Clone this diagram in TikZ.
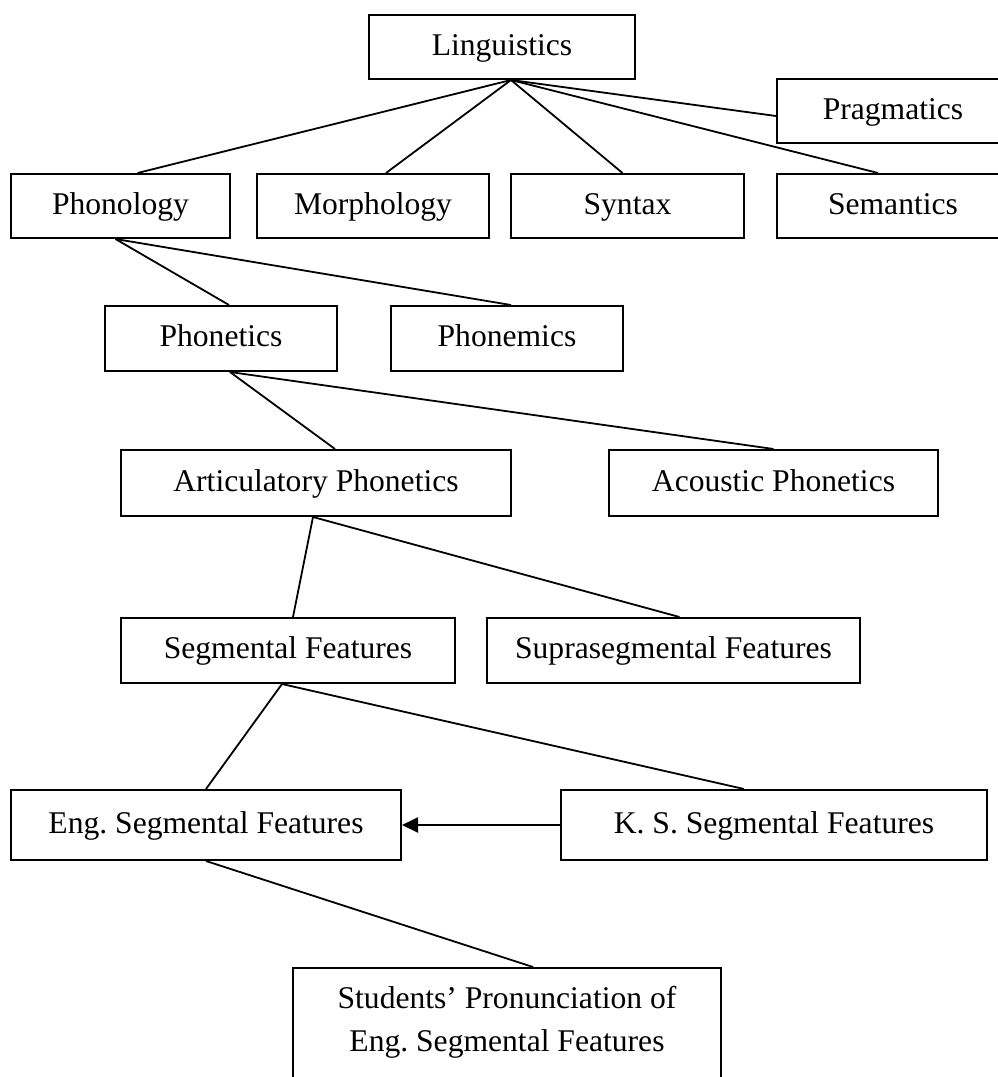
\documentclass[tikz,border=0pt]{standalone}
\usepackage{fontspec}
\setmainfont{Liberation Serif}
\usepackage{tikz}
\usetikzlibrary{arrows.meta}
\frenchspacing
\tikzset{
  boxbase/.style={draw=black, line width=2pt, inner sep=0pt, font=\fontsize{31.6}{43}\selectfont},
  box/.style={boxbase, minimum height=64pt, text height=24pt, text depth=8pt},
  link/.style={draw=black, line width=1.8pt},
  feed/.style={draw=black, line width=2pt, -{Triangle[length=16pt,width=15pt]}},
}
\begin{document}
\begin{tikzpicture}[x=1pt,y=-1pt]
  % page, cut at the right and bottom edges
  \fill[white] (0,0) rectangle (998,1077);
  \clip (0,0) rectangle (998,1077);
  % top level
  \node[box, minimum width=266] (ling) at (502,47) {Linguistics};
  \node[box, minimum width=232] (prag) at (893,111) {Pragmatics};
  \node[box, minimum width=219] (phonol) at (120.5,206) {Phonology};
  \node[box, minimum width=232] (morph) at (373,206) {Morphology};
  \node[box, minimum width=233] (syntax) at (627.5,206) {Syntax};
  \node[box, minimum width=232] (seman) at (893,206) {Semantics};
  % phonology branch
  \node[box, minimum width=232, minimum height=65] (phonet) at (221,338.5) {Phonetics};
  \node[box, minimum width=232, minimum height=65] (phonem) at (507,338.5) {Phonemics};
  \node[box, minimum width=390, minimum height=66] (artic) at (316,483) {Articulatory Phonetics};
  \node[box, minimum width=329, minimum height=66] (acous) at (773.5,483) {Acoustic Phonetics};
  \node[box, minimum width=334, minimum height=65] (segm) at (288,650.5) {Segmental Features};
  \node[box, minimum width=373, minimum height=65] (supra) at (673.5,650.5) {Suprasegmental Features};
  \node[box, minimum width=390, minimum height=70] (eng) at (206,825) {Eng. Segmental Features};
  \node[box, minimum width=426, minimum height=70] (ks) at (774,825) {K. S. Segmental Features};
  \node[boxbase, minimum width=428, inner ysep=18.4pt, align=center, anchor=north] (stud) at (507,967)
    {Students’ Pronunciation of\\Eng. Segmental Features\rule[-25pt]{0pt}{0pt}};
  % connectors
  \coordinate (lingfoot) at ([xshift=9pt]ling.south);
  \draw[link] (lingfoot) -- ([xshift=17pt]phonol.north);
  \draw[link] (lingfoot) -- ([xshift=13pt]morph.north);
  \draw[link] (lingfoot) -- ([xshift=-5pt]syntax.north);
  \draw[link] (lingfoot) -- ([xshift=-15pt]seman.north);
  \draw[link] (lingfoot) -- ([yshift=-5pt]prag.west);
  \draw[link] ([xshift=-5pt]phonol.south) -- ([xshift=8pt]phonet.north);
  \draw[link] ([xshift=-5pt]phonol.south) -- ([xshift=4pt]phonem.north);
  \draw[link] ([xshift=9pt]phonet.south) -- ([xshift=19pt]artic.north);
  \draw[link] ([xshift=9pt]phonet.south) -- (acous.north);
  \draw[link] ([xshift=-3pt]artic.south) -- ([xshift=5pt]segm.north);
  \draw[link] ([xshift=-3pt]artic.south) -- ([xshift=6pt]supra.north);
  \draw[link] ([xshift=-6pt]segm.south) -- (eng.north);
  \draw[link] ([xshift=-6pt]segm.south) -- ([xshift=-30pt]ks.north);
  \draw[feed] (ks.west) -- (eng.east);
  \draw[link] (eng.south) -- ([xshift=26pt]stud.north);
\end{tikzpicture}
\end{document}
